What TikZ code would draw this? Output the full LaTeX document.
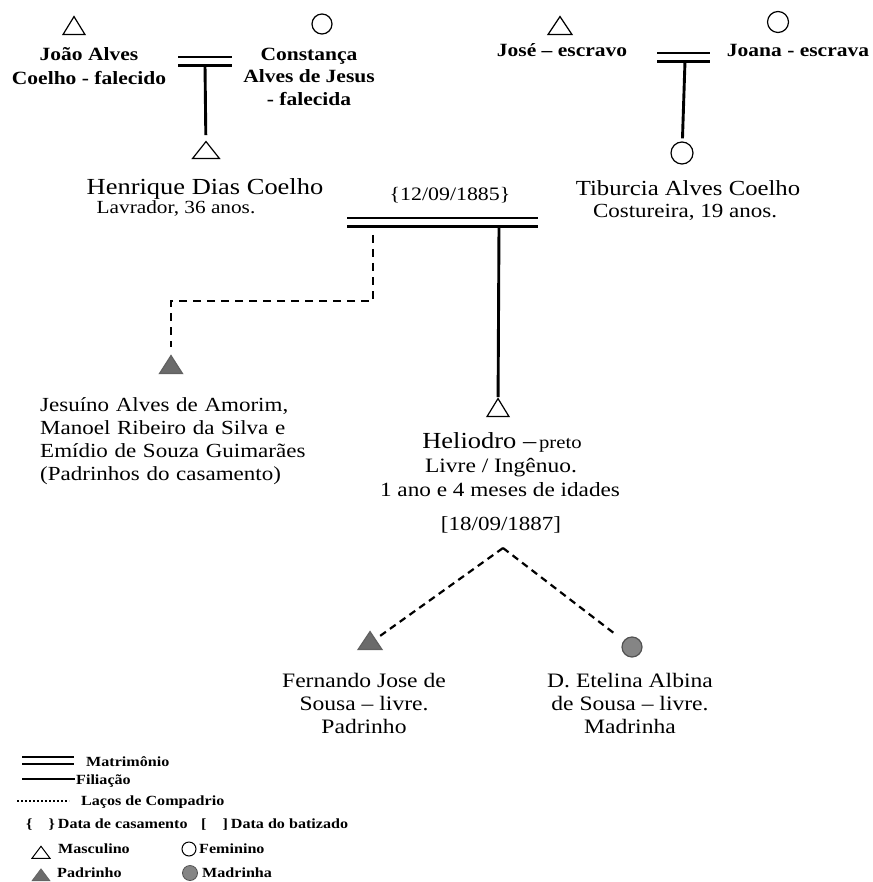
\documentclass[tikz,border=0pt]{standalone}
\usepackage{fontspec}
\setmainfont[FakeStretch=1.15]{Liberation Serif}
\usetikzlibrary{shapes.geometric}

\newcommand\sz[2]{\fontsize{#1}{#2}\selectfont}

\tikzset{
  male/.style={draw=black, line width=1.2pt, isosceles triangle, shape border rotate=90,
    isosceles triangle stretches, minimum width=22pt, minimum height=18pt,
    inner sep=0pt, anchor=apex},
  female/.style={draw=black, circle, line width=1.2pt, minimum size=21pt, inner sep=0pt},
  padrinho/.style={male, fill=black!58, draw=black!62},
  madrinha/.style={female, fill=black!48, draw=black!68},
  matri/.style={draw=black, double=white, double distance=6pt, line width=2.6pt},
  filia/.style={draw=black, line width=2.9pt},
  compadrio/.style={draw=black, line width=2.6pt, dash pattern=on 8pt off 6pt},
  batismo/.style={draw=black, line width=2.2pt, dash pattern=on 7pt off 5pt},
  txt/.style={inner sep=0pt, align=center, text=black},
  lbl/.style={txt, font=\sz{18.7}{24}\bfseries},
  leg/.style={inner sep=0pt, anchor=base west, font=\sz{14}{16}\bfseries},
}

\begin{document}
\begin{tikzpicture}[x=1pt, y=-1pt]
\useasboundingbox (0,0) rectangle (872,882);
\fill[white] (0,0) rectangle (872,882);

% ---- parents of Henrique ----
\node[male, minimum width=22pt, minimum height=18pt] (joao) at (74,15) {};
\node[lbl] (joaoL) at (89,66) {João Alves\\Coelho - falecido};
\node[female, minimum size=20pt] (const) at (322,24) {};
\node[lbl, font=\sz{18.7}{22.5}\bfseries] (constL) at (309,76.5) {Constança\\Alves de Jesus\\- falecida};
\coordinate (m1a) at (178,61.5);
\coordinate (m1b) at (232,61.5);
\coordinate (m1s) at (205,65);
\draw[matri] (m1a) -- (m1b);

% ---- parents of Tiburcia ----
\node[male, minimum width=24pt] (jose) at (560,15) {};
\node[lbl, anchor=base] (joseL) at (562,57) {José – escravo};
\node[female] (joana) at (778,22) {};
\node[lbl, anchor=base] (joanaL) at (798,57) {Joana - escrava};
\coordinate (m2a) at (657,57.5);
\coordinate (m2b) at (710,57.5);
\coordinate (m2s) at (685,61);
\draw[matri] (m2a) -- (m2b);

% ---- the couple ----
\node[male, minimum width=27pt, minimum height=17pt] (henS) at (206,140) {};
\node[txt, anchor=base, font=\sz{23}{28}] (henN) at (205,195) {Henrique Dias Coelho};
\node[txt, anchor=base, font=\sz{18.5}{22}] (henD) at (176,214) {Lavrador, 36 anos.};

\node[female, minimum size=22pt] (tib) at (682,153) {};
\node[txt, anchor=base, font=\sz{21.5}{26}] (tibN) at (688,196) {Tiburcia Alves Coelho};
\node[txt, anchor=base, font=\sz{20}{24}] (tibD) at (685,218) {Costureira, 19 anos.};

\draw[filia, shorten >=5pt] (m1s) -- (henS);
\draw[filia, shorten >=3pt] (m2s) -- (tib);

% ---- marriage of Henrique and Tiburcia ----
\node[txt, anchor=base, font=\sz{19}{23}] (casam) at (450,201) {\{12/09/1885\}};
\coordinate (m3a) at (347,222.5);
\coordinate (m3b) at (538,222.5);
\coordinate (m3s) at (499,226);
\coordinate (m3g) at (373,235);
\coordinate (elbow) at (373,301);
\draw[matri] (m3a) -- (m3b);

% godparents of the wedding
\node[padrinho, minimum width=23pt] (jes) at (171,354) {};
\draw[compadrio, shorten >=7pt] (m3g) -- (elbow) -| (jes);
\node[txt, anchor=west, align=left, text width=262pt, font=\sz{20}{23}] (jesL) at (40,441.5)
  {\makebox[262pt][s]{Jesuíno Alves de Amorim,}\\
   \makebox[262pt][s]{Manoel Ribeiro da Silva e}\\
   \makebox[262pt][s]{Emídio de Souza Guimarães}\\
   (Padrinhos do casamento)};

% ---- the child ----
\node[male] (heli) at (498,397) {};
\draw[filia] (m3s) -- (heli);
\node[txt, anchor=base] (heliN) at (502,448) {{\sz{23}{28}Heliodro –} {\sz{18}{22}preto}};
\node[txt, anchor=base, font=\sz{20.4}{24}] (heliA) at (501,472) {Livre / Ingênuo.};
\node[txt, anchor=base, font=\sz{20.2}{24}] (heliB) at (500,496) {1 ano e 4 meses de idades};
\node[txt, anchor=base, font=\sz{20}{24}] (batiz) at (501,530) {[18/09/1887]};
\coordinate (bap) at (503,548);

% baptism godparents
\node[padrinho, minimum width=24pt] (fer) at (370,630) {};
\node[madrinha, minimum size=20pt] (ete) at (632,647) {};
\draw[batismo, shorten >=5pt] (bap) -- (fer);
\draw[batismo, shorten >=9pt] (bap) -- (ete);
\node[txt, font=\sz{20.5}{23}] (ferL) at (364,703) {Fernando Jose de\\Sousa – livre.\\Padrinho};
\node[txt, font=\sz{20.5}{23}] (eteL) at (630,703) {D. Etelina Albina\\de Sousa – livre.\\Madrinha};

% ---- legend ----
\coordinate (lg1a) at (22,760.5);
\coordinate (lg1b) at (74,760.5);
\draw[draw=black, double=white, double distance=5pt, line width=1.6pt] (lg1a) -- (lg1b);
\node[leg] (lgt1) at (86,766) {Matrimônio};
\coordinate (lg2a) at (22,779);
\coordinate (lg2b) at (75,779);
\draw[draw=black, line width=2.2pt] (lg2a) -- (lg2b);
\node[leg] (lgt2) at (76,784) {Filiação};
\coordinate (lg3a) at (17,801);
\coordinate (lg3b) at (69,801);
\draw[draw=black, line width=1.9pt, dash pattern=on 1.8pt off 2.2pt] (lg3a) -- (lg3b);
\node[leg] (lgt3) at (81,805) {Laços de Compadrio};
\node[leg] (lgt4) at (26,828) {\{\hspace*{16pt}\}\hspace*{3pt}Data de casamento};
\node[leg] (lgt5) at (201,828) {[\hspace*{16pt}]\hspace*{3pt}Data do batizado};
\node[male, minimum width=18pt, minimum height=12pt, line width=1pt] (lgM) at (41,845) {};
\node[leg] (lgt6) at (58,853) {Masculino};
\node[female, minimum size=14pt, line width=1pt] (lgF) at (189,849) {};
\node[leg] (lgt7) at (199,853) {Feminino};
\node[padrinho, minimum width=18pt, minimum height=12pt, line width=0.6pt] (lgP) at (41,868) {};
\node[leg] (lgt8) at (57,877) {Padrinho};
\node[madrinha, minimum size=15pt, line width=0.8pt] (lgD) at (190,873) {};
\node[leg] (lgt9) at (202,877) {Madrinha};
\end{tikzpicture}
\end{document}
